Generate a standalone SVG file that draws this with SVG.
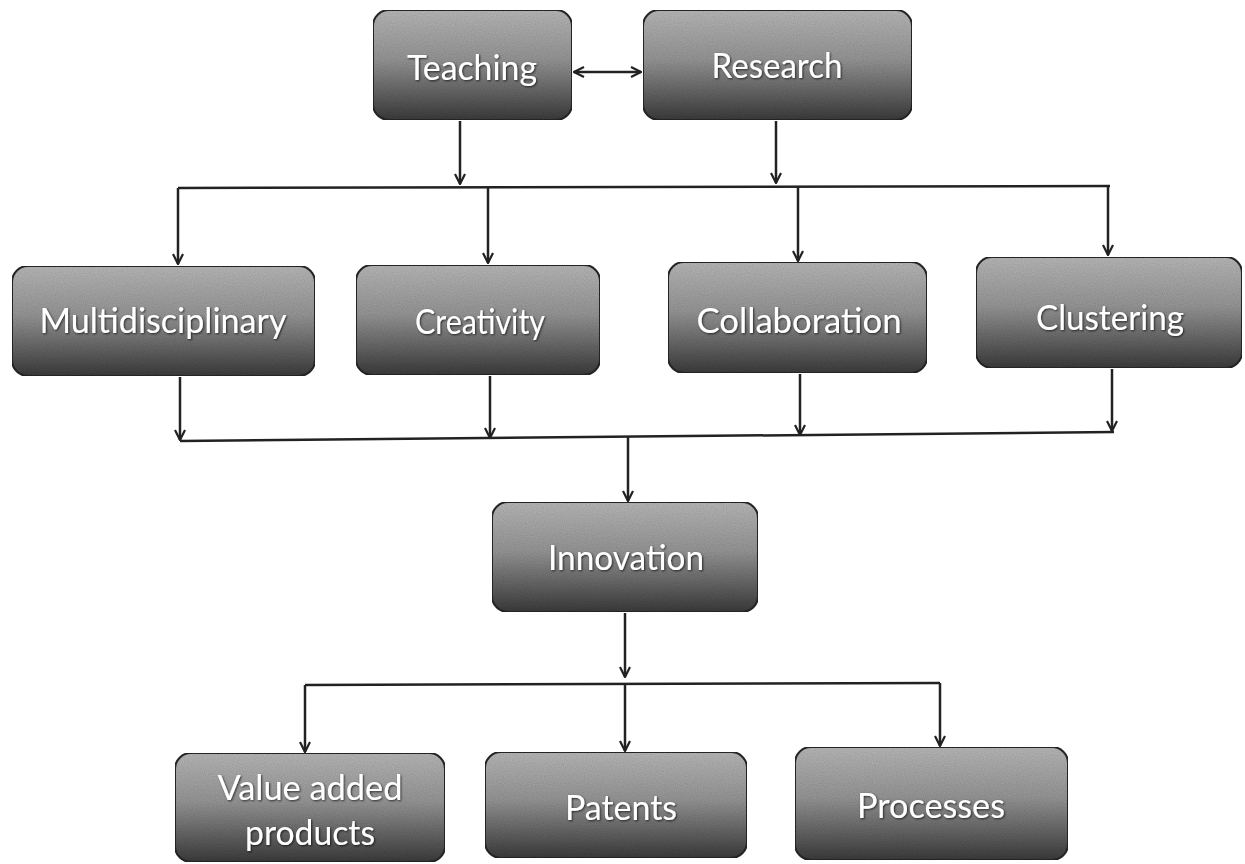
<svg xmlns="http://www.w3.org/2000/svg" width="1245" height="864" viewBox="0 0 1245 864">
<defs>
<linearGradient id="g" x1="0" y1="0" x2="0" y2="1">
<stop offset="0" stop-color="#bdbdbd"/>
<stop offset="0.45" stop-color="#9a9a9a"/>
<stop offset="1" stop-color="#3e3e3e"/>
</linearGradient>
<filter id="noise" x="0" y="0" width="100%" height="100%">
<feTurbulence type="fractalNoise" baseFrequency="0.9" numOctaves="1" seed="3" result="n"/>
<feColorMatrix in="n" type="matrix" values="0 0 0 0 0  0 0 0 0 0  0 0 0 0 0  0 0 0 0.35 0" result="nm"/>
<feComposite in="nm" in2="SourceGraphic" operator="in" result="nc"/>
<feMerge><feMergeNode in="SourceGraphic"/><feMergeNode in="nc"/></feMerge>
</filter>
<filter id="ts" x="-10%" y="-20%" width="120%" height="140%">
<feDropShadow dx="1" dy="1" stdDeviation="0.8" flood-color="#000" flood-opacity="0.7"/>
</filter>
<marker id="ah" viewBox="0 0 12 12" refX="11" refY="6" markerWidth="12" markerHeight="12" markerUnits="userSpaceOnUse" orient="auto-start-reverse">
<path d="M1,1 L11,6 L1,11" fill="none" stroke="#222" stroke-width="2.2"/>
</marker>
</defs>
<style>
.box{fill:url(#g);stroke:#2a2a2a;stroke-width:2;filter:url(#noise)}
.t{font-family:Lato,"Open Sans","Liberation Sans",sans-serif;font-size:34px;fill:#fff;text-anchor:middle;filter:url(#ts)}
.c{fill:none;stroke:#222;stroke-width:2.5}
.a{marker-end:url(#ah)}
</style>
<rect width="1245" height="864" fill="#fff"/>

<g id="connectors">
<path class="c" d="M574,72 L641,72" marker-start="url(#ah)" marker-end="url(#ah)"/>
<path class="c a" d="M460,121 L460,184"/>
<path class="c a" d="M776,121 L776,183"/>
<path class="c" d="M178,188 L1110,186"/>
<path class="c a" d="M178,188 L178,264"/>
<path class="c a" d="M488,188 L488,263"/>
<path class="c a" d="M798,187 L798,261"/>
<path class="c a" d="M1108,186 L1108,255"/>
<path class="c a" d="M180,377 L180,440"/>
<path class="c a" d="M490,376 L490,438"/>
<path class="c a" d="M800,374 L800,435"/>
<path class="c a" d="M1112,369 L1112,431"/>
<path class="c" d="M180,441 L1114,432"/>
<path class="c a" d="M628,437 L628,501"/>
<path class="c a" d="M625,613 L625,677"/>
<path class="c" d="M305,685 L940,683"/>
<path class="c a" d="M305,685 L305,752"/>
<path class="c a" d="M625,684 L625,751"/>
<path class="c a" d="M940,683 L940,746"/>
</g>

<g id="teaching"><rect class="box" x="373" y="10" width="199" height="110" rx="16"/><text class="t" x="472" y="80" textLength="130" lengthAdjust="spacingAndGlyphs">Teaching</text></g>
<g id="research"><rect class="box" x="643" y="10" width="269" height="110" rx="16"/><text class="t" x="777" y="78" textLength="131" lengthAdjust="spacingAndGlyphs">Research</text></g>
<g id="multidisciplinary"><rect class="box" x="12" y="266" width="303" height="110" rx="16"/><text class="t" x="163" y="333" textLength="247" lengthAdjust="spacingAndGlyphs">Multidisciplinary</text></g>
<g id="creativity"><rect class="box" x="356" y="265" width="244" height="110" rx="16"/><text class="t" x="480" y="334" textLength="130" lengthAdjust="spacingAndGlyphs">Creativity</text></g>
<g id="collaboration"><rect class="box" x="668" y="262" width="259" height="111" rx="16"/><text class="t" x="799" y="333" textLength="205" lengthAdjust="spacingAndGlyphs">Collaboration</text></g>
<g id="clustering"><rect class="box" x="976" y="257" width="266" height="111" rx="16"/><text class="t" x="1110" y="330" textLength="148" lengthAdjust="spacingAndGlyphs">Clustering</text></g>
<g id="innovation"><rect class="box" x="492" y="502" width="266" height="110" rx="16"/><text class="t" x="626" y="570" textLength="156" lengthAdjust="spacingAndGlyphs">Innovation</text></g>
<g id="value-added"><rect class="box" x="175" y="753" width="270" height="109" rx="16"/><text class="t" x="310" y="800" textLength="185" lengthAdjust="spacingAndGlyphs">Value added</text><text class="t" x="310" y="845" textLength="130" lengthAdjust="spacingAndGlyphs">products</text></g>
<g id="patents"><rect class="box" x="485" y="752" width="262" height="106" rx="16"/><text class="t" x="621" y="820" textLength="112" lengthAdjust="spacingAndGlyphs">Patents</text></g>
<g id="processes"><rect class="box" x="795" y="747" width="273" height="113" rx="16"/><text class="t" x="931" y="818" textLength="148" lengthAdjust="spacingAndGlyphs">Processes</text></g>
</svg>
